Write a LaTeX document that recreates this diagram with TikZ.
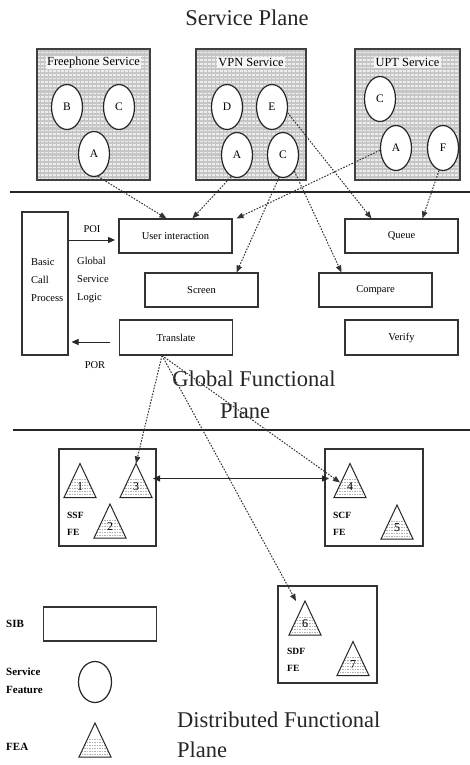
\documentclass[tikz,border=0pt]{standalone}
\usepackage{fontspec}
\setmainfont{Liberation Serif}
\usetikzlibrary{arrows.meta,shapes.geometric}

\tikzset{
  plane/.style={font=\fontsize{22.5}{27}\selectfont, text=black!85, inner sep=0},
  svc/.style={draw=black!75, line width=1.3pt, fill=gray!45, inner sep=0,
    path picture={
      \foreach \k in {1,...,36}
        \draw[white!85!gray, line width=1.6pt, dash pattern=on 2.6pt off 1.4pt]
          ([yshift=-\k*3.7pt]path picture bounding box.north west) --
          ([yshift=-\k*3.7pt]path picture bounding box.north east);}},
  svctitle/.style={fill=white!92!gray, inner sep=1.2pt, font=\fontsize{12.4}{14}\selectfont},
  sf/.style={ellipse, draw=black!85, line width=1.2pt, fill=white, inner sep=0,
    minimum width=31pt, minimum height=45pt, font=\fontsize{11.5}{12}\selectfont},
  sib/.style={draw=black!80, line width=1.1pt, fill=white, inner sep=0,
    minimum width=113pt, minimum height=34pt, font=\fontsize{10.5}{12}\selectfont},
  fe/.style={draw=black!80, line width=1.1pt, inner sep=0, minimum width=97pt, minimum height=97pt},
  small/.style={font=\fontsize{10.5}{18}\selectfont, align=left, inner sep=0},
  felabel/.style={font=\bfseries\fontsize{9.5}{17}\selectfont, align=left, inner sep=0},
  leglabel/.style={font=\bfseries\fontsize{11}{18}\selectfont, align=left, inner sep=0},
  hatch/.style={gray!60, line width=0.5pt, dash pattern=on 1.5pt off 1pt},
  feaedge/.style={draw=black!85, line width=1pt, line join=miter},
  feanum/.style={font=\fontsize{12}{13}\selectfont, inner sep=0},
  flow/.style={black!80, line width=1pt, dash pattern=on 1.6pt off 1.4pt,
    -{Triangle[length=7pt,width=5.5pt]}},
  sarrow/.style={black!85, line width=1pt, -{Triangle[length=7pt,width=6pt]}},
  divider/.style={black!85, line width=1.3pt},
  fea/.pic={
    \fill[white] (0,-17) -- (16,17) -- (-16,17) -- cycle;
    \begin{scope}
      \clip (0,-17) -- (16,17) -- (-16,17) -- cycle;
      \foreach \k in {0,...,6}
        \draw[hatch] (-16,{-1+\k*3}) -- (16,{-1+\k*3});
    \end{scope}
    \draw[feaedge] (0,-17) -- (16,17) -- (-16,17) -- cycle;
    \node[feanum] (-n) at (0,6) {#1};
    \coordinate (-apex) at (0,-17);
    \coordinate (-e) at (17,-2);
    \coordinate (-w) at (-21,-2);
    \coordinate (-side) at (-10,2);
  }
}

\begin{document}
\begin{tikzpicture}[x=1pt, y=-1pt]
  \useasboundingbox[fill=white] (0,0) rectangle (470,765);

  % ---------- Service plane ----------
  \node[plane] (sptitle) at (247,18) {Service Plane};

  \node[svc, minimum width=113pt, minimum height=131pt] (fps) at (93.5,114.5) {};
  \node[svc, minimum width=110pt, minimum height=131pt] (vpn) at (251,114.5) {};
  \node[svc, minimum width=105pt, minimum height=131pt] (upt) at (407.5,114.5) {};

  \node[svctitle] (fpst) at ([yshift=-14pt]fps.north) {Freephone Service};
  \node[svctitle] (vpnt) at ([yshift=-14pt]vpn.north) {VPN Service};
  \node[svctitle] (uptt) at ([yshift=-14pt]upt.north) {UPT Service};

  \node[sf] (fB) at (67,107) {B};
  \node[sf] (fC) at (119,107) {C};
  \node[sf] (fA) at (94,154) {A};

  \node[sf] (vD) at (227,107) {D};
  \node[sf] (vE) at (272,107) {E};
  \node[sf] (vA) at (237,155) {A};
  \node[sf] (vC) at (283,155) {C};

  \node[sf] (uC) at (380,99) {C};
  \node[sf] (uA) at (396,148) {A};
  \node[sf] (uF) at (443,148) {F};

  \coordinate (d1l) at (10,192);
  \coordinate (d1r) at (470,192);
  \draw[divider] (d1l) -- (d1r);

  % ---------- Global functional plane ----------
  \node[draw=black!80, line width=1.1pt, minimum width=46pt, minimum height=143pt, inner sep=0]
    (bcp) at (45,283.5) {};
  \node[small, anchor=west] (bcpt) at (31,280) {Basic\\Call\\Process};
  \node[small, anchor=west] (gsl) at (77,280) {Global\\Service\\Logic};

  \node[sib] (ui) at (175.5,236) {User interaction};
  \node[sib] (queue) at (401.5,236) {Queue};
  \node[sib] (screen) at (201.5,290) {Screen};
  \node[sib] (compare) at (375.5,290) {Compare};
  \node[sib, minimum height=35pt] (translate) at (176,337.5) {Translate};
  \node[sib, minimum height=35pt] (verify) at (401.5,337.5) {Verify};

  \node[small] (poil) at (92,229) {POI};
  \coordinate (poi) at (115,240);
  \draw[sarrow] (bcp.east |- poi) -- (poi);

  \node[small] (porl) at (95,365) {POR};
  \coordinate (por) at (110,342);
  \draw[sarrow, shorten >=3pt] (por) -- (bcp.east |- por);

  \node[plane] (gfp1) at (254,379) {Global Functional};
  \node[plane] (gfp2) at (245,411) {Plane};

  \coordinate (d2l) at (13,430);
  \coordinate (d2r) at (470,430);
  \draw[divider] (d2l) -- (d2r);

  % ---------- Distributed functional plane ----------
  \node[fe] (ssf) at (107.5,497.5) {};
  \node[fe, minimum width=98pt] (scf) at (374,497.5) {};
  \node[fe, minimum width=99pt] (sdf) at (327.5,634.5) {};

  \pic (t1) at (80,480.5) {fea=1};
  \pic (t3) at (136,480.5) {fea=3};
  \pic (t2) at (110,521) {fea=2};
  \node[felabel, anchor=west] (ssft) at (67,524) {SSF\\FE};

  \pic (t4) at (350,480.5) {fea=4};
  \pic (t5) at (397,522) {fea=5};
  \node[felabel, anchor=west] (scft) at (333,524) {SCF\\FE};

  \pic (t6) at (305,618) {fea=6};
  \pic (t7) at (353,658.5) {fea=7};
  \node[felabel, anchor=west] (sdft) at (287,660) {SDF\\FE};

  \draw[black!85, line width=1pt, {Triangle[length=7pt,width=6pt]}-{Triangle[length=7pt,width=6pt]}]
    (t3-e) -- (t4-w);

  \node[plane, anchor=west] (dfp1) at (177,720) {Distributed Functional};
  \node[plane, anchor=west] (dfp2) at (177,750) {Plane};

  % ---------- Legend ----------
  \node[leglabel, anchor=west] (libl) at (6,624) {SIB};
  \node[sib] (legsib) at (100,624) {};
  \node[leglabel, anchor=west] (lsfl) at (6,681) {Service\\Feature};
  \node[sf, minimum width=33pt, minimum height=41pt] (legsf) at (95,682) {};
  \node[leglabel, anchor=west] (lfea) at (6,747) {FEA};
  \pic (legfea) at (95,740) {fea=};

  % ---------- Service feature to SIB mapping ----------
  \draw[flow] (fA.-80) -- ([xshift=48pt]ui.north west);
  \draw[flow] (vA.-105) -- ([xshift=74pt]ui.north west);
  \draw[flow] (uA.188) -- ([xshift=4pt]ui.north east);
  \draw[flow] (vC.-100) -- ([xshift=-22pt]screen.north east);
  \draw[flow] (vC.-55) -- ([xshift=23pt]compare.north west);
  \draw[flow] (vE.-20) -- ([xshift=27pt]queue.north west);
  \draw[flow] (uF.-100) -- ([xshift=78pt]queue.north west);

  % ---------- SIB to FEA mapping ----------
  \coordinate (trout) at ([xshift=-14pt]translate.south);
  \draw[flow] (trout) -- (t3-apex);
  \draw[flow] (trout) -- (t4-side);
  \draw[flow] (trout) -- ([xshift=-9pt]t6-apex);
\end{tikzpicture}
\end{document}
